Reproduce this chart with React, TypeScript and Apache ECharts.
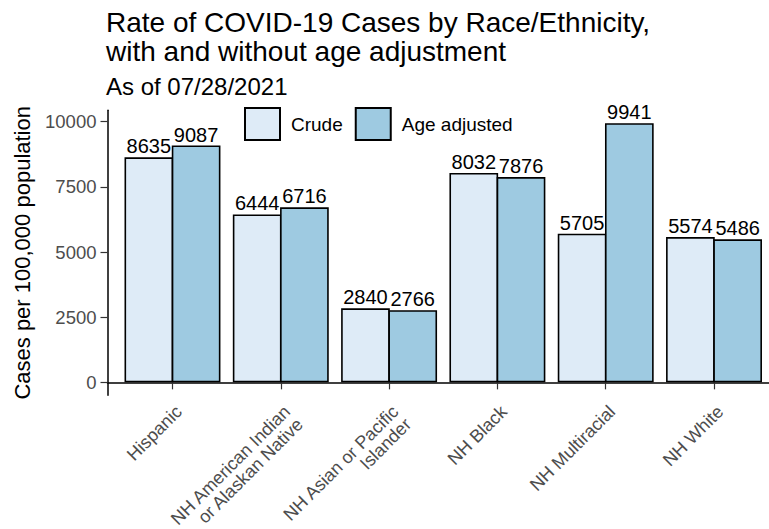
import React, { useEffect, useRef } from "react";
import * as echarts from "echarts";

const categories = [
  "Hispanic",
  "NH American Indian\nor Alaskan Native",
  "NH Asian or Pacific\nIslander",
  "NH Black",
  "NH Multiracial",
  "NH White",
];
const crude = [8635, 6444, 2840, 8032, 5705, 5574];
const ageAdjusted = [9087, 6716, 2766, 7876, 9941, 5486];
const yTicks = [0, 2500, 5000, 7500, 10000];
const seriesNames = ["Crude", "Age adjusted"];

const FONT = "'Liberation Sans', Arial, sans-serif";

export default function App() {
  const ref = useRef<HTMLDivElement>(null);
  useEffect(() => {
    if (!ref.current) return;
    const chart = echarts.init(ref.current, null, { renderer: "svg" });
    const positions = categories.map((_, i) => i + 1);
    const toPairs = (arr: number[]) => arr.map((v, i) => [positions[i], v]);
    const labelCfg = {
      show: true,
      position: "top",
      distance: 1,
      color: "#000",
      fontSize: 20,
      fontFamily: FONT,
      formatter: (p: any) => String(p.value[1]),
    };
    chart.setOption({
      animation: false,
      textStyle: { fontFamily: FONT },
      title: [
        {
          text: "Rate of COVID-19 Cases by Race/Ethnicity,\nwith and without age adjustment",
          left: 106,
          top: 7.5,
          padding: 0,
          textStyle: { fontSize: 28, fontWeight: "normal", color: "#000", lineHeight: 29.5, fontFamily: FONT },
        },
        {
          text: "As of 07/28/2021",
          left: 106,
          top: 74,
          padding: 0,
          textStyle: { fontSize: 24, fontWeight: "normal", color: "#000", lineHeight: 25, fontFamily: FONT },
        },
      ],
      legend: {
        left: 244,
        top: 107,
        padding: 0,
        itemWidth: 35,
        itemHeight: 32,
        itemGap: 12,
        icon: "rect",
        textStyle: { fontSize: 19, color: "#000", padding: [0, 0, 0, 6], fontFamily: FONT },
        data: seriesNames,
      },
      grid: {
        left: 107.5,
        top: 110.3,
        width: 671.5,
        height: 285,
        containLabel: false,
        outerBoundsMode: "none",
      },
      xAxis: {
        type: "value",
        min: 0.4,
        max: 6.6,
        splitLine: { show: false },
        axisLine: { show: true, lineStyle: { color: "#000", width: 1.5 } },
        axisTick: { show: true, customValues: positions, length: 7, lineStyle: { color: "#333", width: 1.2 } },
        axisLabel: {
          customValues: positions,
          rotate: 45,
          margin: 7,
          align: "right",
          verticalAlign: "top",
          color: "#4D4D4D",
          fontSize: 18,
          fontFamily: FONT,
          formatter: (v: number) => categories[Math.round(v) - 1] ?? "",
        },
      },
      yAxis: {
        type: "value",
        min: -497,
        max: 10438,
        name: "Cases per 100,000 population",
        nameLocation: "middle",
        nameRotate: 90,
        nameGap: 74,
        nameTextStyle: { fontSize: 22, color: "#000", fontFamily: FONT },
        splitLine: { show: false },
        axisLine: { show: true, lineStyle: { color: "#000", width: 1.5 } },
        axisTick: { show: true, customValues: yTicks, length: 7, lineStyle: { color: "#333", width: 1.2 } },
        axisLabel: {
          customValues: yTicks,
          margin: 11,
          color: "#4D4D4D",
          fontSize: 18.5,
          fontFamily: FONT,
          formatter: (v: number) => String(v),
        },
      },
      series: [
        {
          name: seriesNames[0],
          type: "bar",
          data: toPairs(crude),
          barWidth: 48.7,
          barGap: "-3%",
          itemStyle: { color: "#DEEBF7", borderColor: "#000", borderWidth: 1.6 },
          label: labelCfg,
        },
        {
          name: seriesNames[1],
          type: "bar",
          data: toPairs(ageAdjusted),
          barWidth: 48.7,
          barGap: "-3%",
          itemStyle: { color: "#9ECAE1", borderColor: "#000", borderWidth: 1.6 },
          label: labelCfg,
        },
      ],
    });
    return () => chart.dispose();
  }, []);
  return (
    <div
      ref={ref}
      style={{ position: "absolute", left: 0, top: 0, width: 769, height: 529, background: "#fff" }}
    />
  );
}
